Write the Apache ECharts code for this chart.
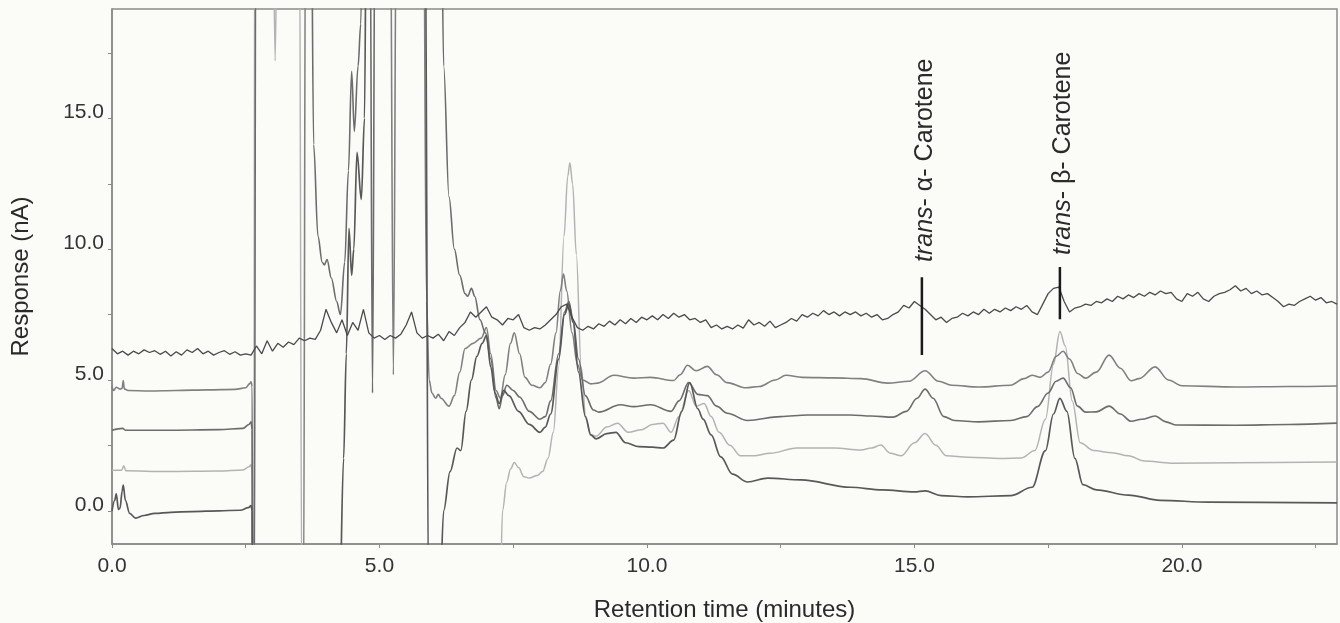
<!DOCTYPE html>
<html>
<head>
<meta charset="utf-8">
<title>Chromatogram</title>
<script src="https://cdn.jsdelivr.net/npm/echarts@6/dist/echarts.min.js"></script>
<style>
html, body { margin: 0; padding: 0; background: #fbfbf8; }
#chart { width: 1340px; height: 623px; }
</style>
</head>
<body>
<div id="chart"></div>
<script>
// top trace, sampled every 0.1 min from 0.0
const topStart = 0
const topStep = 0.1
const topTrace = [
  6.2, 6.0, 6.1, 5.95, 6.1, 6.0, 6.15, 6.05, 6.12, 5.98,
  6.1, 5.92, 6.08, 5.95, 6.15, 6.05, 6.2, 6.0, 6.1, 5.95,
  6.05, 6.12, 5.98, 6.08, 5.95, 6.0, 5.95, 6.3, 6.0, 6.5,
  6.1, 6.4, 6.25, 6.45, 6.35, 6.6, 6.5, 6.6, 6.55, 6.9,
  7.7, 7.2, 6.8, 7.3, 6.7, 7.2, 6.9, 7.7, 6.8, 6.6,
  6.7, 6.55, 6.7, 6.6, 6.75, 7.1, 7.6, 6.8, 6.6, 6.7,
  6.6, 6.75, 6.5, 6.85, 6.7, 7.0, 7.2, 7.6, 7.4, 7.6,
  7.8, 7.4, 7.3, 7.1, 7.35, 7.3, 7.5, 7.0, 6.9, 7.0,
  6.95, 7.1, 7.3, 7.5, 7.8, 7.9, 7.4, 7.0, 6.9, 7.05,
  6.95, 7.15, 7.05, 7.25, 7.1, 7.3, 7.15, 7.35, 7.2, 7.4,
  7.3, 7.45, 7.3, 7.5, 7.35, 7.55, 7.4, 7.5, 7.3, 7.35,
  7.2, 7.3, 7.0, 7.1, 6.95, 7.05, 6.95, 7.1, 6.98, 7.3,
  7.1, 7.2, 7.05, 7.25, 7.0, 7.1, 7.2, 7.35, 7.25, 7.5,
  7.4, 7.55, 7.45, 7.65, 7.5, 7.6, 7.45, 7.6, 7.5, 7.6,
  7.45, 7.55, 7.4, 7.5, 7.3, 7.35, 7.5, 7.6, 7.85, 7.75,
  8.0, 7.85, 7.7, 7.5, 7.3, 7.4, 7.2, 7.35, 7.4, 7.55,
  7.45, 7.6, 7.5, 7.7, 7.55, 7.7, 7.6, 7.75, 7.65, 7.8,
  7.7, 7.85, 7.6, 7.5, 7.9, 8.3, 8.5, 8.55, 8.0, 7.6,
  7.75, 7.8, 7.9, 7.85, 8.0, 7.95, 8.1, 8.0, 8.2, 8.1,
  8.25, 8.15, 8.3, 8.2, 8.35, 8.25, 8.4, 8.3, 8.35, 8.1,
  8.0, 8.3, 8.2, 8.35, 8.1, 8.0, 8.2, 8.3, 8.35, 8.45,
  8.6, 8.4, 8.5, 8.3, 8.4, 8.25, 8.3, 8.15, 8.0, 7.8,
  7.9, 7.85, 8.0, 8.1, 8.2, 8.05, 8.15, 7.95, 8.0, 7.9
]

const trace2 = [
  [0, 4.75], [0.03, 4.6], [0.08, 4.72], [0.15, 4.65], [0.19, 4.68], [0.21, 4.98], [0.23, 4.66],
  [0.3, 4.6], [0.7, 4.58], [1.2, 4.6], [1.8, 4.62], [2.3, 4.64], [2.5, 4.7], [2.57, 4.85], [2.6, 4.93],
  [2.62, 4.75], [2.63, -4], [3.58, -4], [3.62, 25], [5.2, 25], [5.26, 5.2], [5.32, 25], [5.82, 25],
  [5.88, 8], [5.93, 5.0], [5.98, 4.5], [6.05, 4.3], [6.1, 4.45], [6.15, 4.3], [6.3, 4.0], [6.4, 4.4],
  [6.5, 5.3], [6.6, 6.2], [6.75, 6.4], [6.9, 6.6], [7.0, 7.0], [7.08, 6.0], [7.18, 4.6], [7.26, 4.3],
  [7.35, 5.2], [7.45, 6.4], [7.52, 6.8], [7.62, 6.0], [7.72, 5.1], [7.85, 4.8], [8.0, 4.7], [8.1, 4.9],
  [8.2, 5.6], [8.3, 6.8], [8.38, 8.4], [8.44, 9.05], [8.5, 8.4], [8.6, 6.8], [8.7, 5.6], [8.8, 5.0],
  [8.95, 4.85], [9.08, 4.88], [9.38, 5.18], [9.75, 5.07], [10.07, 5.1], [10.5, 4.98], [10.62, 5.2],
  [10.76, 5.56], [10.92, 5.35], [11.13, 5.52], [11.3, 5.2], [11.5, 4.9], [11.85, 4.7], [12.1, 4.75],
  [12.4, 5.0], [12.6, 5.18], [12.9, 5.1], [13.5, 5.08], [14.0, 5.05], [14.5, 4.88], [14.9, 4.95],
  [15.2, 5.35], [15.45, 4.95], [15.7, 4.8], [16.2, 4.73], [16.8, 4.8], [17.05, 5.05], [17.2, 5.18],
  [17.35, 5.1], [17.5, 5.3], [17.65, 5.9], [17.78, 6.1], [17.9, 5.8], [18.05, 5.25], [18.2, 5.07],
  [18.4, 5.3], [18.64, 5.95], [18.85, 5.45], [19.05, 4.97], [19.2, 5.05], [19.5, 5.5], [19.75, 5.0],
  [20.0, 4.78], [21.0, 4.73], [22.0, 4.75], [22.9, 4.77]
]

const trace3 = [
  [0, 3.08], [0.2, 3.15], [0.25, 3.08], [1, 3.08], [2, 3.1], [2.45, 3.15], [2.56, 3.3], [2.6, 3.4],
  [2.62, 3.1], [2.63, -4], [2.66, -4], [2.69, 25], [3.72, 25], [3.77, 14], [3.85, 10.5], [3.93, 9.5],
  [3.97, 9.4], [4.02, 9.6], [4.1, 8.9], [4.2, 8.0], [4.27, 7.5], [4.35, 9.5], [4.42, 13], [4.48, 16.8],
  [4.53, 14.5], [4.6, 17], [4.65, 18.6], [4.7, 25], [4.82, 25], [4.87, 4.5], [4.92, 25], [6.15, 25],
  [6.2, 17], [6.3, 12], [6.4, 10], [6.5, 9], [6.6, 8.3], [6.65, 8.2], [6.72, 8.5], [6.78, 8.2],
  [6.88, 7.3], [6.98, 6.8], [7.08, 5.8], [7.18, 4.3], [7.24, 3.9], [7.3, 4.4], [7.38, 4.8], [7.5, 4.6],
  [7.62, 4.35], [7.8, 3.8], [8.0, 3.5], [8.1, 3.6], [8.2, 4.2], [8.35, 6.0], [8.46, 7.6], [8.54, 8.0],
  [8.62, 7.3], [8.72, 5.8], [8.85, 4.4], [9.0, 3.85], [9.1, 3.77], [9.5, 4.05], [9.75, 3.98],
  [10.07, 4.05], [10.45, 3.8], [10.6, 4.2], [10.78, 4.9], [10.95, 4.45], [11.13, 4.4], [11.3, 4.0],
  [11.5, 3.73], [11.88, 3.45], [12.5, 3.6], [13.0, 3.66], [13.8, 3.66], [14.2, 3.62], [14.6, 3.58],
  [14.85, 3.8], [15.05, 4.3], [15.2, 4.65], [15.35, 4.3], [15.55, 3.6], [15.75, 3.45], [16.2, 3.4],
  [16.8, 3.45], [17.1, 3.6], [17.3, 3.98], [17.5, 4.5], [17.65, 4.95], [17.78, 5.07], [17.92, 4.7],
  [18.05, 4.0], [18.2, 3.77], [18.4, 3.78], [18.64, 4.0], [18.85, 3.7], [19.05, 3.42], [19.25, 3.5],
  [19.5, 3.62], [19.7, 3.4], [19.9, 3.28], [21.0, 3.27], [22.0, 3.3], [22.9, 3.35]
]

const trace4 = [
  [0, 1.55], [0.18, 1.55], [0.22, 1.72], [0.26, 1.53], [1, 1.5], [2, 1.52], [2.45, 1.56], [2.56, 1.68],
  [2.6, 1.76], [2.62, 1.5], [2.63, -4], [2.65, -4], [2.67, 25], [3.0, 25], [3.05, 17.2], [3.1, 25],
  [3.5, 25], [3.55, -4], [7.25, -4], [7.3, 0], [7.38, 1.1], [7.45, 1.6], [7.52, 1.85], [7.6, 1.65],
  [7.7, 1.3], [7.8, 1.25], [7.95, 1.35], [8.05, 1.5], [8.15, 2.0], [8.25, 3.0], [8.35, 5.5],
  [8.45, 10.5], [8.52, 12.8], [8.56, 13.3], [8.61, 12.5], [8.68, 9.8], [8.77, 5.5], [8.86, 3.5],
  [8.95, 2.9], [9.05, 2.85], [9.25, 3.2], [9.45, 3.35], [9.65, 3.0], [9.9, 3.1], [10.1, 3.3],
  [10.3, 3.35], [10.45, 3.0], [10.6, 3.6], [10.78, 4.6], [10.92, 4.0], [11.07, 4.1], [11.2, 3.6],
  [11.35, 3.0], [11.55, 2.5], [11.75, 2.1], [12.0, 2.1], [12.3, 2.2], [12.8, 2.4], [13.5, 2.4],
  [14.0, 2.32], [14.2, 2.4], [14.37, 2.51], [14.55, 2.2], [14.75, 2.1], [15.0, 2.6], [15.2, 2.95],
  [15.4, 2.5], [15.6, 2.1], [16.0, 2.05], [16.6, 2.0], [17.0, 2.02], [17.25, 2.3], [17.45, 3.5],
  [17.6, 5.6], [17.72, 6.85], [17.82, 6.3], [17.95, 4.2], [18.1, 2.6], [18.35, 2.3], [18.7, 2.22],
  [19.0, 2.1], [19.3, 1.9], [19.8, 1.82], [21.0, 1.84], [22.9, 1.86]
]

const trace5 = [
  [0, 0.0], [0.05, 0.4], [0.08, 0.65], [0.12, 0.05], [0.15, 0.1], [0.19, 0.75], [0.21, 0.98],
  [0.25, 0.4], [0.33, -0.1], [0.44, -0.28], [0.6, -0.18], [0.8, -0.1], [1.1, -0.06], [1.5, -0.03],
  [2.0, 0.0], [2.4, 0.02], [2.55, 0.12], [2.6, 0.2], [2.62, 0.0], [2.63, -4], [4.25, -4], [4.33, 2],
  [4.38, 6], [4.43, 10.8], [4.48, 9.0], [4.52, 10.0], [4.58, 13.7], [4.66, 11.9], [4.72, 15],
  [4.76, 25], [5.85, 25], [5.92, -4], [6.12, -4], [6.2, 0], [6.32, 1.5], [6.45, 2.4], [6.52, 2.3],
  [6.62, 3.8], [6.72, 5.0], [6.82, 5.9], [6.92, 6.4], [7.0, 6.7], [7.08, 5.5], [7.16, 4.5],
  [7.24, 4.1], [7.32, 4.6], [7.42, 4.4], [7.6, 3.8], [7.8, 3.3], [8.0, 3.0], [8.1, 3.2], [8.2, 3.7],
  [8.35, 5.8], [8.46, 7.5], [8.54, 7.9], [8.62, 7.2], [8.72, 5.3], [8.85, 3.6], [8.95, 2.9],
  [9.05, 2.75], [9.25, 2.95], [9.42, 3.0], [9.6, 2.6], [9.85, 2.45], [10.1, 2.43], [10.3, 2.4],
  [10.5, 2.7], [10.65, 3.8], [10.8, 4.9], [10.95, 3.9], [11.05, 3.5], [11.2, 2.9], [11.38, 2.06],
  [11.6, 1.4], [11.88, 1.1], [12.26, 1.25], [12.88, 1.18], [13.8, 0.9], [14.4, 0.8], [15.0, 0.72],
  [15.2, 0.76], [15.5, 0.58], [16.0, 0.53], [16.8, 0.58], [17.2, 0.9], [17.45, 2.3], [17.6, 3.7],
  [17.72, 4.3], [17.85, 3.8], [18.0, 2.0], [18.15, 1.0], [18.4, 0.8], [19.0, 0.6], [19.6, 0.4],
  [20.5, 0.33], [22.9, 0.3]
]

// peak markers: [time, low, high, label, label base]
const markers = [
  [15.14, 5.95, 8.93, 'α', 9.51],
  [17.72, 7.32, 9.32, 'β', 9.78]
]

const xLabels = [0, 5, 10, 15, 20]
const xTicks = [0, 2.5, 5, 7.5, 10, 12.5, 15, 17.5, 20, 22.5]
const yLabels = [0, 5, 10, 15]
const yTicks = [0, 2.5, 5, 7.5, 10, 12.5, 15, 17.5]

const font = 'Liberation Sans, Arial, sans-serif'
const chart = echarts.init(document.getElementById('chart'))

function traceSeries (data, color, width) {
  return {
    type: 'line',
    data: data,
    showSymbol: false,
    smooth: 0.35,
    smoothMonotone: 'x',
    lineStyle: { color: color, width: width },
    silent: true,
    animation: false,
    z: 2
  }
}

const topData = topTrace.map((v, i) => [topStart + i * topStep, v])

const series = [
  traceSeries(trace4, '#b3b3b3', 1.5),
  traceSeries(trace2, '#808080', 1.6),
  traceSeries(trace3, '#6c6c6c', 1.6),
  traceSeries(trace5, '#585858', 1.7),
  {
    type: 'line',
    data: topData,
    showSymbol: false,
    lineStyle: { color: '#4a4a4a', width: 1.3 },
    silent: true,
    animation: false,
    z: 3
  }
]
markers.forEach(m => {
  series.push({
    type: 'line',
    data: [[m[0], m[1]], [m[0], m[2]]],
    showSymbol: false,
    lineStyle: { color: '#1a1a1a', width: 2.5 },
    silent: true,
    animation: false,
    z: 4
  })
})

chart.setOption({
  backgroundColor: '#fbfbf8',
  animation: false,
  grid: {
    left: 112,
    right: 3,
    top: 9,
    bottom: 79,
    outerBoundsMode: 'none',
    containLabel: false,
    show: true,
    borderColor: '#8a8a8a',
    borderWidth: 1.5,
    backgroundColor: 'transparent'
  },
  xAxis: {
    type: 'value',
    min: 0,
    max: 22.9,
    name: 'Retention time (minutes)',
    nameLocation: 'middle',
    nameGap: 54,
    nameTextStyle: { fontFamily: font, fontSize: 24, color: '#2a2a2a' },
    axisLine: { onZero: false, lineStyle: { color: '#8a8a8a', width: 1.5 } },
    axisTick: { customValues: xTicks, length: 4, lineStyle: { color: '#8a8a8a' } },
    axisLabel: {
      customValues: xLabels,
      margin: 12,
      fontFamily: font,
      fontSize: 21,
      color: '#333',
      formatter: v => v.toFixed(1)
    },
    splitLine: { show: false }
  },
  yAxis: {
    type: 'value',
    min: -1.27,
    max: 19.18,
    name: 'Response (nA)',
    nameLocation: 'middle',
    nameGap: 79,
    nameRotate: 90,
    nameTextStyle: { fontFamily: font, fontSize: 24, color: '#2a2a2a' },
    axisLine: { onZero: false, lineStyle: { color: '#8a8a8a', width: 1.5 } },
    axisTick: { customValues: yTicks, length: 4, lineStyle: { color: '#8a8a8a' } },
    axisLabel: {
      customValues: yLabels,
      margin: 8,
      verticalAlign: 'bottom',
      lineHeight: 12,
      fontFamily: font,
      fontSize: 21,
      color: '#333',
      formatter: v => v.toFixed(1)
    },
    splitLine: { show: false }
  },
  series: series
})

// rotated peak names, placed from data coordinates
const graphics = markers.map(m => {
  const p = chart.convertToPixel({ gridIndex: 0 }, [m[0], m[4]])
  return {
    type: 'text',
    x: p[0] + 3,
    y: p[1],
    rotation: Math.PI / 2,
    silent: true,
    style: {
      text: '{i|trans}- ' + m[3] + '- Carotene',
      fontFamily: font,
      fontSize: 25,
      fill: '#2a2a2a',
      align: 'left',
      verticalAlign: 'middle',
      rich: {
        i: { fontStyle: 'italic', fontFamily: font, fontSize: 25, fill: '#2a2a2a' }
      }
    },
    z: 10
  }
})
chart.setOption({ graphic: graphics })
</script>
</body>
</html>
